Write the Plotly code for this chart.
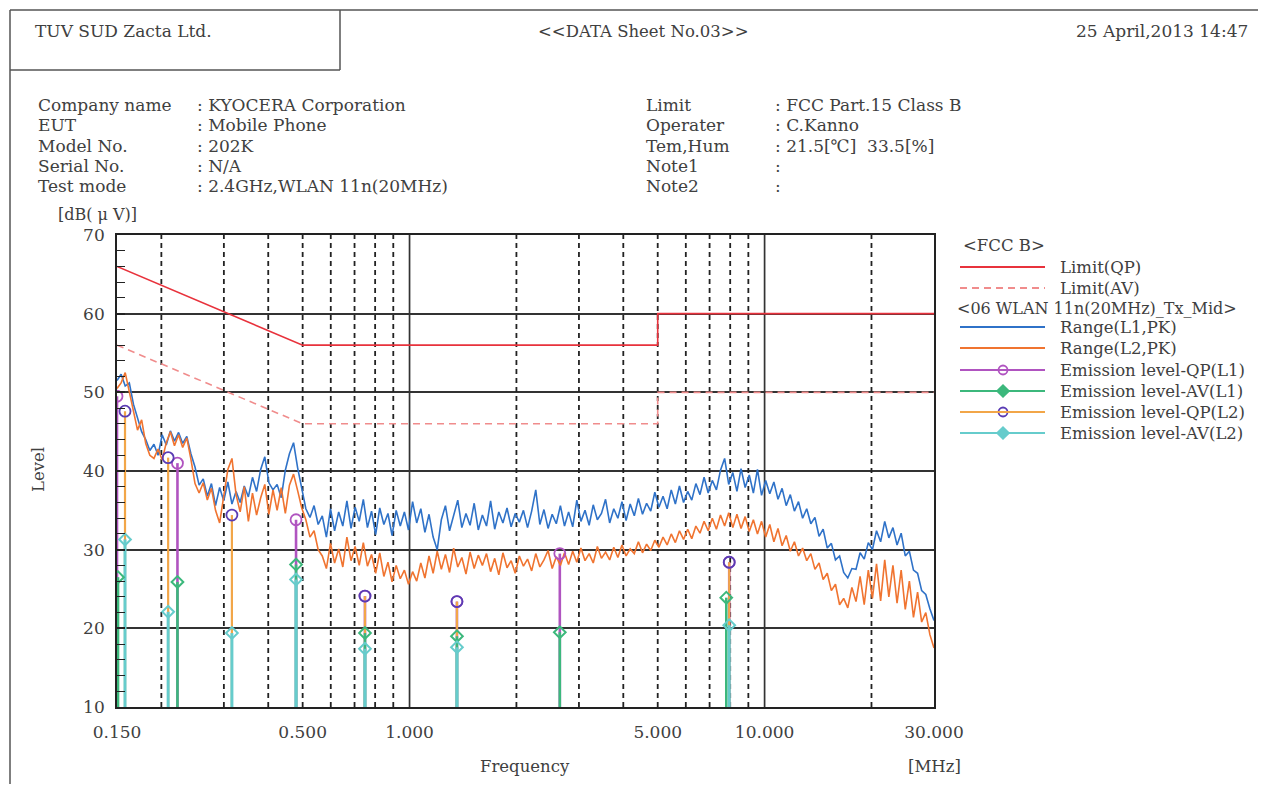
import numpy as np
import plotly.graph_objects as go

FIG_W, FIG_H = 1266, 786
OFF_X, OFF_Y = 8, 8          # the page body margin

# ---------------------------------------------------------------- data
sweep_start_mhz, sweep_stop_mhz, sweep_points = 0.15, 30.0, 200

range_l1_pk = [
    51.5, 52.3, 50.8, 51.2, 48.5, 46.8, 45.0, 44.0, 42.6, 43.4,
    42.0, 44.6, 43.3, 45.1, 43.8, 44.9, 43.5, 44.4, 42.2, 40.5,
    38.2, 39.0, 36.8, 38.4, 35.6, 37.9, 36.2, 38.6, 35.8, 37.4,
    36.0, 38.1, 36.7, 39.2, 37.4, 40.2, 41.8, 38.5, 37.6, 38.3,
    36.6, 40.1, 42.2, 43.6, 40.4, 37.8, 35.2, 34.1, 35.6, 33.2,
    34.3, 31.6, 35.2, 32.4, 34.8, 33.0, 36.2, 32.7, 35.4, 33.6,
    36.4, 32.8, 34.9, 31.9, 35.3, 33.2, 34.6, 31.8, 35.0, 33.0,
    34.8, 32.5, 36.1, 33.4, 35.2, 32.2, 34.5, 31.6, 30.0, 33.8,
    35.6, 32.4, 34.2, 36.3, 32.8, 34.6, 33.1, 35.9, 32.5, 34.4,
    33.0, 36.2, 32.6, 34.8, 33.4, 35.3, 32.9, 34.6, 33.5, 35.0,
    32.8, 34.9, 37.6, 33.2, 35.1, 32.7, 34.5, 33.3, 35.6, 33.0,
    34.8, 32.9, 36.3, 33.6, 35.0, 33.1, 35.7, 33.8, 34.6, 36.4,
    33.4, 35.2, 34.0, 36.1, 33.7, 35.8, 34.3, 36.5, 34.5, 35.9,
    34.9, 37.3, 35.4, 36.8, 35.2, 37.6, 35.8, 38.1, 36.0, 37.4,
    36.3, 38.4, 37.0, 39.2, 37.2, 38.8, 37.6, 40.1, 41.6, 38.3,
    39.8, 37.4, 40.3, 37.9, 39.5, 37.2, 40.2, 36.9, 38.8, 37.1,
    38.6, 36.4, 37.8, 35.6, 37.0, 34.9, 36.1, 34.0, 35.2, 33.3,
    34.1, 31.7, 32.6, 30.2, 30.8, 28.7, 29.2, 27.1, 26.4, 27.6,
    27.5, 29.6, 28.8, 30.9, 30.0, 32.4, 31.0, 33.6, 31.5, 32.8,
    30.6, 32.1, 29.2, 29.8, 27.4, 27.0, 24.8, 24.3, 22.5, 21.0,
]

range_l2_pk = [
    50.5, 51.2, 52.5, 50.0, 47.5, 45.2, 46.5, 43.5, 42.0, 41.6,
    42.8, 41.4, 43.6, 45.0, 43.2, 44.6, 43.0, 44.2, 41.5, 38.4,
    37.2, 38.5, 36.3, 37.8, 35.0, 33.4, 36.8, 40.2, 41.6, 37.0,
    34.8, 38.0, 33.6, 37.2, 34.4, 36.6, 38.3, 34.5, 37.6, 35.0,
    37.9, 34.6, 38.2, 39.6, 37.5, 35.3, 33.8, 31.6, 32.4, 30.0,
    29.2, 27.6, 30.8, 28.3, 30.1, 27.8, 31.6, 28.6, 30.4, 28.0,
    30.9, 27.9, 29.4, 27.0, 29.6, 26.6, 28.4, 25.9, 28.0, 26.3,
    27.4, 25.6, 27.2, 26.0, 28.3, 26.4, 29.2, 27.0, 29.8, 27.5,
    29.4, 27.1, 30.2, 27.8, 29.0, 26.9, 29.7, 27.6, 29.3, 28.0,
    29.5, 27.2, 28.9, 26.8, 29.6, 27.7, 28.6, 27.0, 29.2, 27.9,
    28.8, 27.3, 29.5, 27.8, 28.7, 29.9, 27.6, 29.1, 28.0, 29.6,
    28.1, 29.8, 28.4, 30.2, 28.6, 29.5, 28.3, 30.4, 28.9, 29.7,
    28.7, 30.3, 29.0, 30.6, 29.2, 30.1, 29.5, 31.0, 29.6, 30.7,
    29.9, 31.2, 30.3, 31.6, 30.6, 32.0, 30.9, 32.4, 31.3, 32.6,
    31.4, 33.0, 32.1, 33.6, 32.4, 34.0, 32.6, 34.4, 33.0, 34.7,
    32.8, 34.5, 32.7, 34.2, 32.3, 33.8, 32.0, 33.6, 31.6, 33.2,
    31.0, 32.7, 30.5, 31.8, 29.8, 31.0, 29.2, 30.2, 28.6, 29.5,
    27.5, 28.3, 26.2, 27.0, 24.8, 25.6, 23.0, 23.8, 22.6, 25.2,
    23.4, 26.6, 23.0, 27.4, 23.8, 28.2, 23.5, 28.7, 24.0, 28.0,
    23.2, 27.4, 22.4, 26.0, 21.4, 24.6, 20.8, 22.0, 19.2, 17.5,
]

limit_freq = [0.15, 0.5, 5.0, 5.0, 30.0]
limit_qp = [66.0, 56.0, 56.0, 60.0, 60.0]
limit_av = [56.0, 46.0, 46.0, 50.0, 50.0]

qp_l1_freq = [0.150, 0.222, 0.479, 0.749, 1.36, 2.65, 7.95]
qp_l1_level = [49.5, 41.0, 33.8, 24.1, 23.4, 29.5, 28.4]
av_l1_freq = [0.151, 0.222, 0.479, 0.749, 1.36, 2.65, 7.80]
av_l1_level = [26.5, 25.9, 28.1, 19.4, 19.0, 19.5, 23.9]
qp_l2_freq = [0.158, 0.209, 0.316, 0.749, 1.36, 7.95]
qp_l2_level = [47.6, 41.7, 34.4, 24.1, 23.4, 28.4]
av_l2_freq = [0.158, 0.209, 0.316, 0.479, 0.749, 1.36, 7.95]
av_l2_level = [31.3, 22.1, 19.4, 26.2, 17.4, 17.6, 20.4]

grid_dashed_freq = [0.2, 0.3, 0.4, 0.5, 0.6, 0.7, 0.8, 0.9,
                    2, 3, 4, 5, 6, 7, 8, 9, 20]
grid_solid_freq = [1, 10]
x_tick_vals = [0.15, 0.5, 1, 5, 10, 30]
x_tick_text = ["0.150", "0.500", "1.000", "5.000", "10.000", "30.000"]
y_tick_vals = [10, 20, 30, 40, 50, 60, 70]
level_floor, level_top = 10, 70

info_left = [("Company name", ": KYOCERA Corporation"),
             ("EUT", ": Mobile Phone"),
             ("Model No.", ": 202K"),
             ("Serial No.", ": N/A"),
             ("Test mode", ": 2.4GHz,WLAN 11n(20MHz)")]
info_right = [("Limit", ": FCC Part.15 Class B"),
              ("Operater", ": C.Kanno"),
              ("Tem,Hum", ": 21.5[℃]  33.5[%]"),
              ("Note1", ":"),
              ("Note2", ":")]

# ---------------------------------------------------------------- styles
FONT = "DejaVu Serif, Liberation Serif, serif"
TXT = "#404040"
C_QP_LIM = "#e8323c"
C_AV_LIM = "#f08c8c"
C_L1 = "#2f72c8"
C_L2 = "#f07430"
C_QP1 = "#b054c0"
C_AV1 = "#3cb87c"
C_QP2 = "#f2a648"
C_AV2 = "#66cccc"
C_CIRC = "#5a3cb4"

sweep_freq = np.geomspace(sweep_start_mhz, sweep_stop_mhz, sweep_points)


def stems(freqs, levels):
    xs, ys = [], []
    for f, v in zip(freqs, levels):
        xs += [f, f, None]
        ys += [level_floor, v, None]
    return xs, ys


def vlines(freqs):
    xs, ys = [], []
    for f in freqs:
        xs += [f, f, None]
        ys += [level_floor, level_top, None]
    return xs, ys


fig = go.Figure()

# grid
gx, gy = vlines(grid_dashed_freq)
fig.add_trace(go.Scatter(x=gx, y=gy, mode="lines", hoverinfo="skip",
                         line=dict(color="#222222", width=1.8, dash="5px,4px")))
gx, gy = vlines(grid_solid_freq)
fig.add_trace(go.Scatter(x=gx, y=gy, mode="lines", hoverinfo="skip",
                         line=dict(color="#333333", width=1.7)))

# limits
fig.add_trace(go.Scatter(x=limit_freq, y=limit_qp, mode="lines",
                         line=dict(color=C_QP_LIM, width=1.6)))
fig.add_trace(go.Scatter(x=limit_freq, y=limit_av, mode="lines",
                         line=dict(color=C_AV_LIM, width=1.6, dash="7px,5px")))

# stems
for fr, lv, col, w in [(qp_l1_freq, qp_l1_level, C_QP1, 2.6),
                       (qp_l2_freq, qp_l2_level, C_QP2, 2.2),
                       (av_l1_freq, av_l1_level, C_AV1, 2.6),
                       (av_l2_freq, av_l2_level, C_AV2, 3.0)]:
    sx, sy = stems(fr, lv)
    fig.add_trace(go.Scatter(x=sx, y=sy, mode="lines",
                             line=dict(color=col, width=w)))

# spectra
fig.add_trace(go.Scatter(x=sweep_freq, y=range_l1_pk, mode="lines",
                         line=dict(color=C_L1, width=1.6)))
fig.add_trace(go.Scatter(x=sweep_freq, y=range_l2_pk, mode="lines",
                         line=dict(color=C_L2, width=1.6)))

# markers
fig.add_trace(go.Scatter(x=av_l1_freq, y=av_l1_level, mode="markers",
                         marker=dict(symbol="diamond-open", size=9,
                                     color=C_AV1, line=dict(width=2))))
fig.add_trace(go.Scatter(x=av_l2_freq, y=av_l2_level, mode="markers",
                         marker=dict(symbol="diamond-open", size=9,
                                     color=C_AV2, line=dict(width=2))))
fig.add_trace(go.Scatter(x=qp_l1_freq, y=qp_l1_level, mode="markers",
                         marker=dict(symbol="circle-open", size=11,
                                     color=C_QP1, line=dict(width=1.8))))
fig.add_trace(go.Scatter(x=qp_l2_freq, y=qp_l2_level, mode="markers",
                         marker=dict(symbol="circle-open", size=11,
                                     color=C_CIRC, line=dict(width=1.8))))


# ---------------------------------------------------------------- page overlay (page pixel coords)
def px_line(x0, y0, x1, y1, color="#555555", width=1.5, dash=None):
    fig.add_shape(type="line", xref="x2", yref="y2", x0=x0, y0=y0, x1=x1, y1=y1,
                  line=dict(color=color, width=width, dash=dash))


def px_text(x, y, text, anchor="left", size=17, angle=0):
    fig.add_annotation(xref="x2", yref="y2", x=x, y=y, text=text,
                       showarrow=False, xanchor=anchor, yanchor="middle",
                       textangle=angle, font=dict(family=FONT, size=size, color=TXT))


# page frame and company box
px_line(10, 10, 1262, 10)
px_line(10, 10, 10, 784)
px_line(10, 70, 340, 70)
px_line(340, 10, 340, 70)

px_text(33, 31, "TUV SUD Zacta Ltd.", size=17)
px_text(643, 31, "&lt;&lt;DATA Sheet No.03&gt;&gt;", anchor="center", size=16.5)
px_text(1250, 31, "25 April,2013 14:47", anchor="right", size=17)

row_y = [105, 125, 146, 166, 186]
for (lab, val), yy in zip(info_left, row_y):
    px_text(36, yy, lab, size=17)
    px_text(195, yy, val, size=17)
for (lab, val), yy in zip(info_right, row_y):
    px_text(644, yy, lab, size=17)
    px_text(773, yy, val, size=17)

px_text(56, 214, "[dB( μ V)]", size=16)
px_text(38, 470, "Level", anchor="center", size=16.5, angle=-90)
px_text(525, 766, "Frequency", anchor="center", size=16.5)
px_text(934, 766, "[MHz]", anchor="center", size=16.5)

# legend
px_text(961, 245, "&lt;FCC B&gt;", size=16.5)
px_text(955, 308, "&lt;06 WLAN 11n(20MHz)_Tx_Mid&gt;", size=16)
legend_rows = [
    ("Limit(QP)", 267, C_QP_LIM, None, None, None),
    ("Limit(AV)", 288, C_AV_LIM, "7px,5px", None, None),
    ("Range(L1,PK)", 327, C_L1, None, None, None),
    ("Range(L2,PK)", 348, C_L2, None, None, None),
    ("Emission level-QP(L1)", 370, C_QP1, None, "circle-open", C_QP1),
    ("Emission level-AV(L1)", 391, C_AV1, None, "diamond", C_AV1),
    ("Emission level-QP(L2)", 412, C_QP2, None, "circle-open", C_CIRC),
    ("Emission level-AV(L2)", 433, C_AV2, None, "diamond", C_AV2),
]
for lab, yy, col, dash, sym, mcol in legend_rows:
    px_line(960, yy, 1045, yy, color=col, width=2, dash=dash)
    px_text(1058, yy, lab, size=16.5)
    if sym:
        fig.add_trace(go.Scatter(x=[1003], y=[yy], xaxis="x2", yaxis="y2",
                                 mode="markers",
                                 marker=dict(symbol=sym, size=9, color=mcol,
                                             line=dict(width=1.8, color=mcol))))

# ---------------------------------------------------------------- layout
plot_x0, plot_x1, plot_top, plot_bot = 117, 934, 235, 707
dom_x = [(plot_x0 - OFF_X) / FIG_W, (plot_x1 - OFF_X) / FIG_W]
dom_y = [1 - (plot_bot - OFF_Y) / FIG_H, 1 - (plot_top - OFF_Y) / FIG_H]

fig.update_layout(
    width=FIG_W, height=FIG_H, autosize=False,
    margin=dict(l=0, r=0, t=0, b=0, pad=0, autoexpand=False),
    paper_bgcolor="white", plot_bgcolor="rgba(0,0,0,0)",
    showlegend=False,
    font=dict(family=FONT, size=17, color=TXT),
    xaxis=dict(type="log", domain=dom_x, automargin=False,
               range=[np.log10(sweep_start_mhz), np.log10(sweep_stop_mhz)],
               tickmode="array", tickvals=x_tick_vals, ticktext=x_tick_text,
               ticks="", showgrid=False, zeroline=False,
               showline=True, mirror=True, linecolor="#222222", linewidth=1.7,
               ticklabelstandoff=9, tickfont=dict(size=17)),
    yaxis=dict(domain=dom_y, range=[level_floor, level_top], automargin=False,
               tickmode="array", tickvals=y_tick_vals,
               ticks="inside", ticklen=8, tickwidth=1.5, tickcolor="#222222",
               minor=dict(ticks="inside", dtick=2, ticklen=8, tickwidth=1.3,
                          tickcolor="#222222", showgrid=False),
               showgrid=True, gridcolor="#333333", gridwidth=1.7, zeroline=False,
               showline=True, mirror=True, linecolor="#222222", linewidth=1.7,
               ticklabelstandoff=7, tickfont=dict(size=17)),
    xaxis2=dict(domain=[0, 1], range=[OFF_X, OFF_X + FIG_W], visible=False,
                anchor="y2", fixedrange=True, automargin=False),
    yaxis2=dict(domain=[0, 1], range=[OFF_Y + FIG_H, OFF_Y], visible=False,
                anchor="x2", fixedrange=True, automargin=False),
)

fig.write_html("out.html")
